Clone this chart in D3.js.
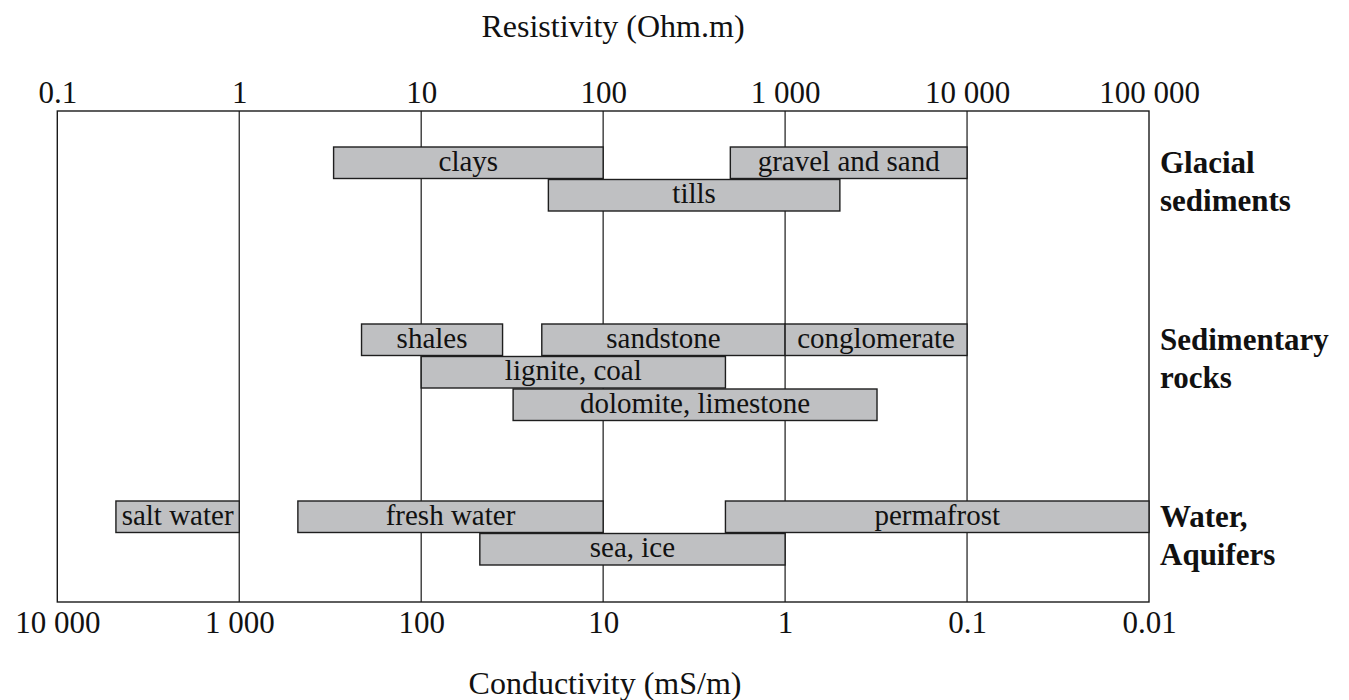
<!DOCTYPE html>
<html>
<head>
<meta charset="utf-8">
<script src="https://cdn.jsdelivr.net/npm/d3@7"></script>
<style>
  html, body { margin: 0; padding: 0; background: #fff; }
  svg { display: block; }
  text { font-family: "Liberation Serif", "Times New Roman", serif; fill: #111; }
</style>
</head>
<body>
<svg id="chart" width="1349" height="700"></svg>
<script>
// Material groups (drawn as bold labels on the right)
const groups = ["Glacial sediments", "Sedimentary rocks", "Water, Aquifers"];
const groupLines = [["Glacial", "sediments"], ["Sedimentary", "rocks"], ["Water,", "Aquifers"]];

// Materials and their resistivity ranges (Ohm.m)
const materials = ["clays", "gravel and sand", "tills",
                   "shales", "sandstone", "conglomerate", "lignite, coal", "dolomite, limestone",
                   "salt water", "fresh water", "permafrost", "sea, ice"];
const materialGroup = [0, 0, 0, 1, 1, 1, 1, 1, 2, 2, 2, 2];
const materialLane  = [0, 0, 1, 0, 0, 0, 1, 2, 0, 0, 0, 1];
const resistivityMin = [3.3, 500, 50, 4.7, 46, 1000, 10, 32, 0.21, 2.1, 470, 21];
const resistivityMax = [100, 10000, 2000, 28, 1000, 10000, 470, 3200, 1, 100, 100000, 1000];

// Axis ticks
const resistivityTicks = [0.1, 1, 10, 100, 1000, 10000, 100000];
const resistivityLabels = ["0.1", "1", "10", "100", "1 000", "10 000", "100 000"];
const conductivityTicks = [10000, 1000, 100, 10, 1, 0.1, 0.01];
const conductivityLabels = ["10 000", "1 000", "100", "10", "1", "0.1", "0.01"];

const svg = d3.select("#chart");
const plotLeft = 57.3, plotRight = 1149, plotTop = 111, plotBottom = 602;
const laneStep = 32.5, barH = 31.5;
const tickFont = 31, barFont = 29, titleFont = 32, groupFont = 31;

const x = d3.scaleLog().domain([0.1, 100000]).range([plotLeft, plotRight]);
// Conductivity in mS/m = 1000 / resistivity, so the scale runs the other way
const xc = d3.scaleLog().domain([10000, 0.01]).range([plotLeft, plotRight]);
const yGroup = d3.scaleBand().domain(groups).range([147, 147 + 3 * 177]).padding(0);

// vertical decade lines
svg.append("g")
  .selectAll("line")
  .data(resistivityTicks.slice(1, -1))
  .join("line")
  .attr("x1", d => x(d)).attr("x2", d => x(d))
  .attr("y1", plotTop).attr("y2", plotBottom)
  .attr("stroke", "#2a2a2a").attr("stroke-width", 1.3);

// frame
svg.append("rect")
  .attr("x", plotLeft).attr("y", plotTop)
  .attr("width", plotRight - plotLeft).attr("height", plotBottom - plotTop)
  .attr("fill", "none").attr("stroke", "#1a1a1a").attr("stroke-width", 1.4);

// bars
const rows = materials.map((name, i) => ({
  name,
  group: groups[materialGroup[i]],
  lane: materialLane[i],
  lo: resistivityMin[i],
  hi: resistivityMax[i]
}));

const bar = svg.append("g").selectAll("g").data(rows).join("g");
bar.append("rect")
  .attr("x", d => x(d.lo))
  .attr("y", d => yGroup(d.group) + d.lane * laneStep)
  .attr("width", d => x(d.hi) - x(d.lo))
  .attr("height", barH)
  .attr("fill", "#bfc0c2")
  .attr("stroke", "#1e1e1e").attr("stroke-width", 1.4);
bar.append("text")
  .attr("x", d => (x(d.lo) + x(d.hi)) / 2)
  .attr("y", d => yGroup(d.group) + d.lane * laneStep + barH / 2 + 8)
  .attr("text-anchor", "middle")
  .attr("font-size", barFont)
  .text(d => d.name);

// top axis: resistivity
const topAxis = d3.axisTop(x)
  .tickValues(resistivityTicks)
  .tickSize(0).tickPadding(8.5)
  .tickFormat((d, i) => resistivityLabels[i]);
const gTop = svg.append("g").attr("transform", `translate(0,${plotTop})`).call(topAxis);
gTop.select(".domain").remove();
gTop.selectAll("text").attr("font-size", tickFont).attr("font-family", "Liberation Serif").attr("fill", "#111");

// bottom axis: conductivity
const bottomAxis = d3.axisBottom(xc)
  .tickValues(conductivityTicks)
  .tickSize(0).tickPadding(9)
  .tickFormat((d, i) => conductivityLabels[i]);
const gBot = svg.append("g").attr("transform", `translate(0,${plotBottom})`).call(bottomAxis);
gBot.select(".domain").remove();
gBot.selectAll("text").attr("font-size", tickFont).attr("font-family", "Liberation Serif").attr("fill", "#111");

// axis titles
svg.append("text")
  .attr("x", 613).attr("y", 37)
  .attr("text-anchor", "middle").attr("font-size", titleFont)
  .text("Resistivity (Ohm.m)");
svg.append("text")
  .attr("x", 605).attr("y", 694)
  .attr("text-anchor", "middle").attr("font-size", titleFont)
  .text("Conductivity (mS/m)");

// group labels
const gl = svg.append("g").selectAll("text").data(groups).join("text")
  .attr("x", 1160)
  .attr("y", d => yGroup(d) + 26)
  .attr("font-size", groupFont).attr("font-weight", "bold");
gl.selectAll("tspan")
  .data((d, i) => groupLines[i])
  .join("tspan")
  .attr("x", 1160)
  .attr("dy", (d, j) => j === 0 ? 0 : 38)
  .text(d => d);
</script>
</body>
</html>
